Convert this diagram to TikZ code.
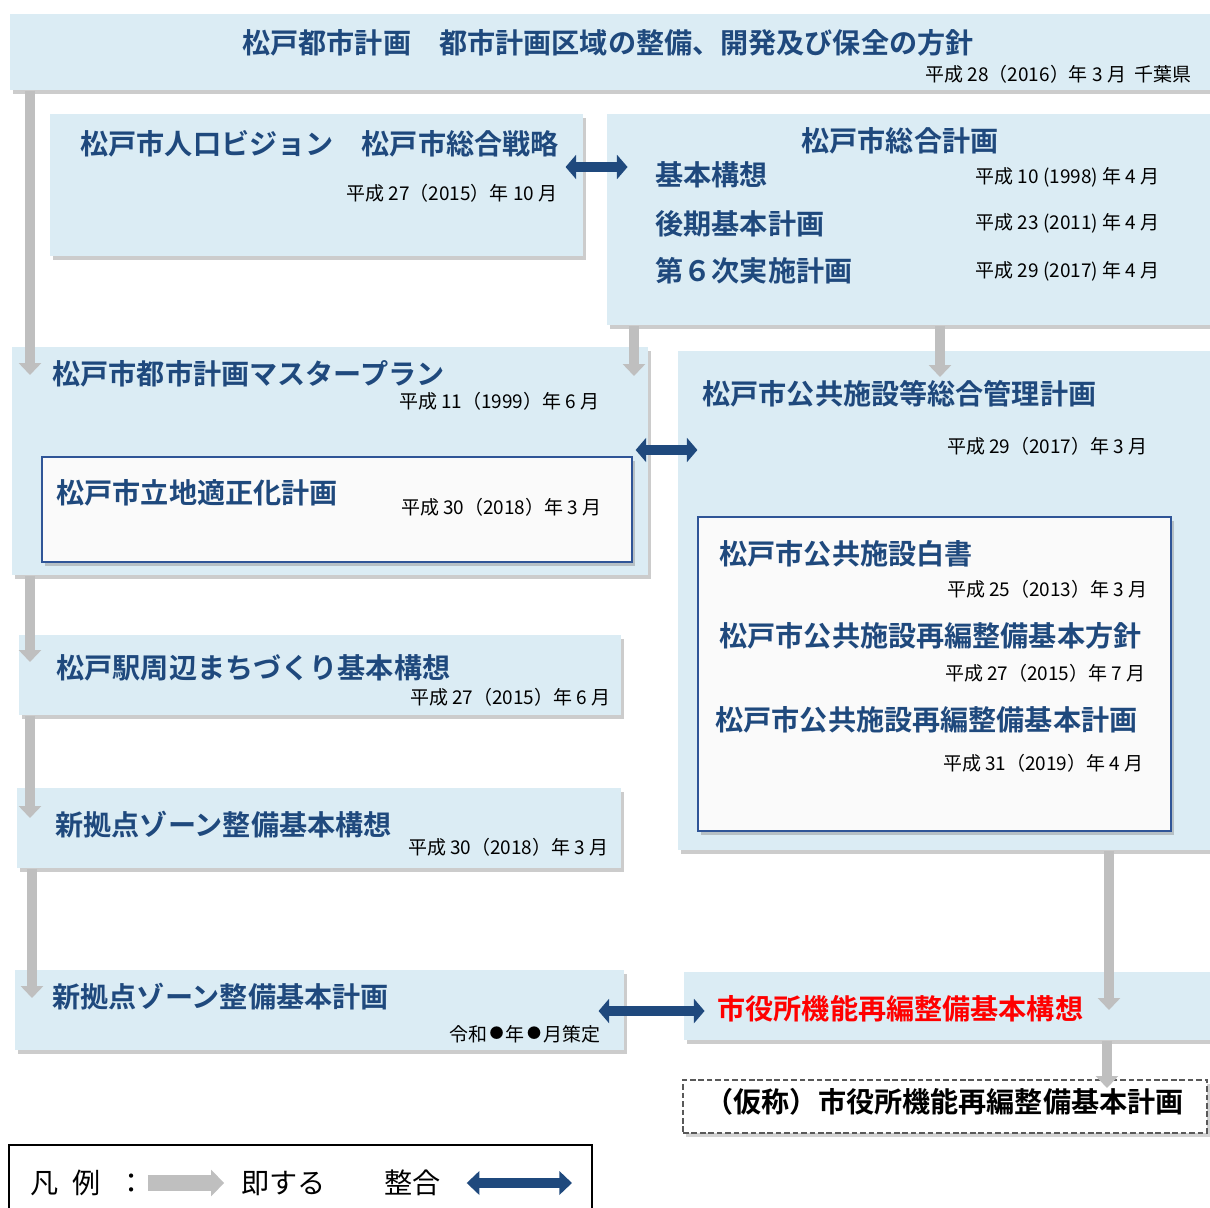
\documentclass[tikz,border=0pt]{standalone}
\usepackage{fontspec}
\setmainfont{Noto Sans CJK JP}[BoldFont={Noto Sans CJK JP Bold}]
\usepackage[dvipsnames]{xcolor}
\usetikzlibrary{arrows.meta,fit,shadows}
\definecolor{boxblue}{RGB}{219,236,244}
\definecolor{planblue}{RGB}{31,73,125}
\definecolor{linkgray}{RGB}{191,191,191}
\definecolor{frameblue}{RGB}{47,85,151}
\newcommand{\maru}{\hspace{1.6pt}\raisebox{1.6pt}{\fontsize{10}{11}\selectfont ●}\hspace{1.6pt}}

\begin{document}
\begin{tikzpicture}[x=0.025cm,y=-0.025cm,thick,
    plan box/.style={fill=boxblue,draw=none,inner sep=0pt,drop shadow={shadow xshift=2pt,shadow yshift=-3pt,opacity=0.4}},
    inner box/.style={fill=black!2,draw=frameblue,line width=1pt,inner sep=0pt,drop shadow={shadow xshift=2pt,shadow yshift=-3pt,opacity=0.4}},
    dash box/.style={fill=white,draw=black!65,dashed,dash pattern=on 4pt off 2pt,line width=1pt,inner sep=0pt,drop shadow={shadow xshift=2pt,shadow yshift=-3pt,opacity=0.35}},
    title text/.style={inner sep=0pt,text=planblue,font=\fontsize{20}{24}\selectfont\bfseries},
    date text/.style={inner sep=0pt,font=\fontsize{13.5}{16}\selectfont},
    legend text/.style={inner sep=0pt,font=\fontsize{20}{24}\selectfont},
    soku/.style={draw=linkgray,line width=7.8pt,-{Triangle[width=15.6pt,length=8.5pt]}},
    seigo/.style={draw=planblue,line width=7pt,{Triangle[width=17pt,length=7.5pt]}-{Triangle[width=17pt,length=7.5pt]}}]

                    \useasboundingbox (0,0) rectangle (1210,1208);
                    \clip (0,0) rectangle (1210,1208);

                    \node[plan box,fit={(10,14) (1230,90)}] (1) {};
                    \node[plan box,fit={(50,114) (583,256)}] (2) {};
                    \node[plan box,fit={(607,114) (1230,325)}] (3) {};
                    \node[plan box,fit={(12,347) (648,575)}] (4) {};
                    \node[inner box,fit={(42,457) (632,562)}] (4a) {};
                    \node[plan box,fit={(678,351) (1230,850)}] (5) {};
                    \node[inner box,fit={(698,517) (1171,831)}] (5a) {};
                    \node[plan box,fit={(19,635) (621,715)}] (6) {};
                    \node[plan box,fit={(17,788) (621,868)}] (7) {};
                    \node[plan box,fit={(15,970) (624,1050)}] (8) {};
                    \node[plan box,fit={(684,972) (1230,1040)}] (9) {};
                    \node[dash box,fit={(683,1080) (1207,1133)}] (10) {};
                    \node[draw=black,line width=1pt,inner sep=0pt,fit={(9,1145) (592,1230)}] (11) {};

                    \node[title text] (1t) at (608,43) {松戸都市計画　都市計画区域の整備、開発及び保全の方針};
                    \node[date text,anchor=east] (1d) at (1192,74) {平成 28（2016）年 3 月\ \ 千葉県};
                    \node[title text,anchor=west] (2t) at (80,144) {松戸市人口ビジョン　松戸市総合戦略};
                    \node[date text,anchor=east] (2d) at (558,193) {平成 27（2015）年 10 月};
                    \node[title text] (3t) at (900,141) {松戸市総合計画};
                    \node[title text,anchor=west] (3a) at (655,175) {基本構想};
                    \node[title text,anchor=west] (3b) at (655,224) {後期基本計画};
                    \node[title text,anchor=west] (3c) at (655,271) {第６次実施計画};
                    \node[date text,anchor=west] (3ad) at (975,177) {平成 10 (1998) 年 4 月};
                    \node[date text,anchor=west] (3bd) at (975,223) {平成 23 (2011) 年 4 月};
                    \node[date text,anchor=west] (3cd) at (975,271) {平成 29 (2017) 年 4 月};
                    \node[title text,anchor=west] (4t) at (52,374) {松戸市都市計画マスタープラン};
                    \node[date text,anchor=east] (4d) at (600,401) {平成 11（1999）年 6 月};
                    \node[title text,anchor=west] (4at) at (56,493) {松戸市立地適正化計画};
                    \node[date text,anchor=east] (4ad) at (602,507) {平成 30（2018）年 3 月};
                    \node[title text,anchor=west] (5t) at (702,394) {松戸市公共施設等総合管理計画};
                    \node[date text,anchor=east] (5d) at (1148,446) {平成 29（2017）年 3 月};
                    \node[title text,anchor=west] (5at) at (719,554) {松戸市公共施設白書};
                    \node[date text,anchor=east] (5ad) at (1148,589) {平成 25（2013）年 3 月};
                    \node[title text,anchor=west] (5bt) at (719,636) {松戸市公共施設再編整備基本方針};
                    \node[date text,anchor=east] (5bd) at (1146,673) {平成 27（2015）年 7 月};
                    \node[title text,anchor=west] (5ct) at (715,720) {松戸市公共施設再編整備基本計画};
                    \node[date text,anchor=east] (5cd) at (1144,763) {平成 31（2019）年 4 月};
                    \node[title text,anchor=west] (6t) at (56,668) {松戸駅周辺まちづくり基本構想};
                    \node[date text,anchor=east] (6d) at (611,697) {平成 27（2015）年 6 月};
                    \node[title text,anchor=west] (7t) at (55,825) {新拠点ゾーン整備基本構想};
                    \node[date text,anchor=east] (7d) at (609,847) {平成 30（2018）年 3 月};
                    \node[title text,anchor=west] (8t) at (52,997) {新拠点ゾーン整備基本計画};
                    \node[date text,anchor=east] (8d) at (601,1034) {令和\maru 年\maru 月策定};
                    \node[title text,anchor=west,text=red] (9t) at (717,1009) {市役所機能再編整備基本構想};
                    \node[title text,anchor=west,text=black] (10t) at (705,1102) {（仮称）市役所機能再編整備基本計画};
                    \node[legend text,anchor=west] (11a) at (30,1183) {凡\hspace{0.5em}例\hspace{0.6em}：};
                    \node[legend text,anchor=west] (11b) at (241,1183) {即する};
                    \node[legend text,anchor=west] (11c) at (384,1183) {整合};

                    \coordinate (a1) at (30,375);
                    \coordinate (a2) at (30,662);
                    \coordinate (a3) at (30,818);
                    \coordinate (a4) at (32,998);
                    \coordinate (a5) at (634,376);
                    \coordinate (a6) at (940,377);
                    \coordinate (a7) at (1109,1010);
                    \coordinate (a8) at (1107,1088);
                    \coordinate (b1) at (595,167);
                    \coordinate (b2) at (660,450);
                    \coordinate (b3) at (650,1011);
                    \coordinate (11e) at (572,1183);

                    \draw[soku] (1.south -| a1) to (a1);
                    \draw[soku] (4.south -| a2) to (a2);
                    \draw[soku] (6.south -| a3) to (a3);
                    \draw[soku] (7.south -| a4) to (a4);
                    \draw[soku] (3.south -| a5) to (a5);
                    \draw[soku] (3.south -| a6) to (a6);
                    \draw[soku] (5.south -| a7) to (a7);
                    \draw[soku] (9.south -| a8) to (a8);
                    \draw[seigo,shorten <=-12.8pt,shorten >=-15pt] (2.east |- b1) to (3.west |- b1);
                    \draw[seigo,shorten <=-9.2pt,shorten >=-14.2pt] (4.east |- b2) to (5.west |- b2);
                    \draw[seigo,shorten <=-18.5pt,shorten >=-15pt] (8.east |- b3) to (9.west |- b3);
                    \draw[soku,line width=10.7pt,-{Triangle[width=18.5pt,length=9.3pt]},shorten <=1pt,shorten >=12pt] (11a.east) to (11b.west);
                    \draw[seigo,line width=7.8pt,{Triangle[width=16.5pt,length=9pt]}-{Triangle[width=16.5pt,length=9pt]},shorten <=18pt] (11c.east) to (11e);

                    ;
                \end{tikzpicture}
\end{document}
